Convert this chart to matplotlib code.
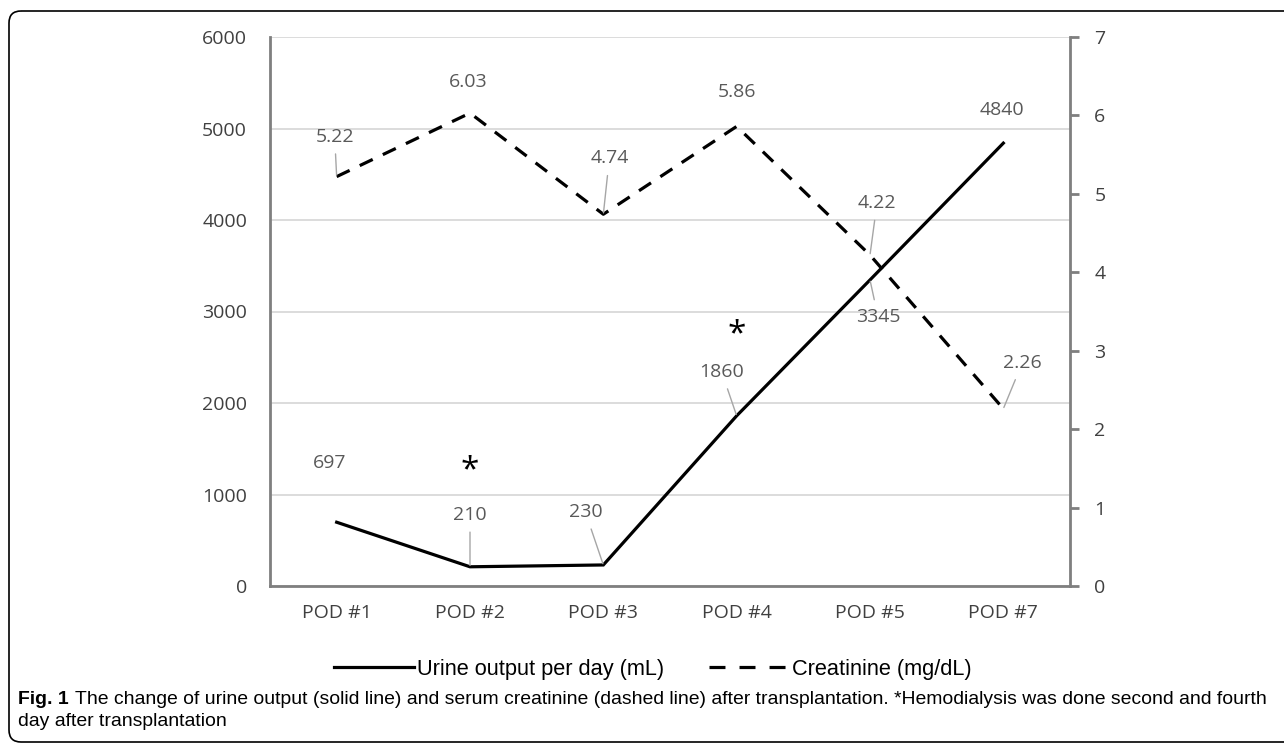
import matplotlib
matplotlib.use("Agg")
from matplotlib import pyplot as plt
from matplotlib.patches import FancyBboxPatch

# data
days = ["POD #1", "POD #2", "POD #3", "POD #4", "POD #5", "POD #7"]
urine = [697, 210, 230, 1860, 3345, 4840]
creat = [5.22, 6.03, 4.74, 5.86, 4.22, 2.26]
dialysis_idx = [1, 3]

# label offsets in pixels (dx, dy) and whether a leader line is drawn
urine_off = [(-7, 59, False), (0, 52, True), (-18, 53, True),
             (-15, 44, True), (8, -37, True), (-1, 33, False)]
creat_off = [(-2, 40, True), (-2, 31, False), (6, 56, True),
             (0, 34, False), (7, 52, True), (19, 46, True)]
star_off = [96, 81]

W, H = 1284, 745
fig = plt.figure(figsize=(W / 100, H / 100), dpi=100)

# rounded frame around the whole figure
bg = fig.add_axes([0, 0, 1, 1])
bg.set_xlim(0, W)
bg.set_ylim(H, 0)
bg.axis("off")
bg.add_patch(FancyBboxPatch((9, 11), W + 60, H - 14, boxstyle="round,pad=0,rounding_size=12",
                            fill=False, ec="black", lw=1.2, clip_on=True))

left, right, top, bottom = 270, 1070, 37, 586
ax = fig.add_axes([left / W, 1 - bottom / H, (right - left) / W, (bottom - top) / H])
ax2 = ax.twinx()

lab_font = "Open Sans"
cap_font = ["Liberation Sans", "DejaVu Sans"]
grey = "#595959"

x = list(range(len(days)))
ax.plot(x, urine, color="black", lw=2.3, solid_joinstyle="miter", zorder=3)
ax2.plot(x, creat, color="black", lw=2.3, dashes=(4.5, 3.5), zorder=3)

ax.set_xlim(-0.5, len(days) - 0.5)
ax.set_ylim(0, 6000)
ax2.set_ylim(0, 7)
ax.set_yticks(range(0, 6001, 1000))
ax2.set_yticks(range(0, 8))
ax.set_xticks(x)
ax.set_xticklabels(days)
ax.grid(axis="y", color="#d9d9d9", lw=1.3)
ax.set_axisbelow(True)

for a in (ax, ax2):
    for s in a.spines.values():
        s.set_visible(False)
ax.spines["left"].set_visible(True)
ax.spines["bottom"].set_visible(True)
ax2.spines["right"].set_visible(True)
for s in [ax.spines["left"], ax.spines["bottom"], ax2.spines["right"]]:
    s.set_color("#7f7f7f")
    s.set_linewidth(2)

ax.tick_params(axis="y", length=0, pad=16.5, labelsize=14, labelcolor="#404040")
ax.tick_params(axis="x", length=0, pad=13, labelsize=14, labelcolor="#404040")
ax2.tick_params(axis="y", length=6.5, width=2, color="#7f7f7f", pad=11, labelsize=14, labelcolor="#404040")
for lbl in ax.get_xticklabels() + ax.get_yticklabels() + ax2.get_yticklabels():
    lbl.set_fontfamily(lab_font)

def put_labels(a, vals, offs, fmt):
    for i, v in enumerate(vals):
        dx, dy, lead = offs[i]
        a.annotate(fmt(v), xy=(i, v), xytext=(dx, dy), textcoords="offset pixels",
                   ha="center", va="center", fontsize=14, color=grey, family=lab_font,
                   arrowprops=dict(arrowstyle="-", color="#a6a6a6", lw=1, shrinkA=4, shrinkB=1) if lead else None,
                   zorder=4)

put_labels(ax, urine, urine_off, lambda v: "%d" % v)
put_labels(ax2, creat, creat_off, lambda v: "%.2f" % v)

for k, i in enumerate(dialysis_idx):
    ax.annotate("*", xy=(i, urine[i]), xytext=(0, star_off[k]), textcoords="offset pixels",
                ha="center", va="center", fontsize=24, color="black", family="Open Sans")

# caption, sized so that the first line spans the same width as in the figure
cap_size = 13
t_fig = fig.text(18 / W, 1 - 699 / H, "Fig. 1", fontsize=cap_size, fontweight="bold",
                 family=cap_font, va="center", ha="left")
t1 = fig.text(75 / W, 1 - 699 / H,
              "The change of urine output (solid line) and serum creatinine (dashed line) after transplantation. "
              "*Hemodialysis was done second and fourth",
              fontsize=cap_size, family=cap_font, va="center", ha="left")
fig.canvas.draw()
r = fig.canvas.get_renderer()
cap_size = cap_size * 1190 / t1.get_window_extent(r).width
t1.set_fontsize(cap_size)
t_fig.set_fontsize(cap_size)
fig.text(18 / W, 1 - 722 / H, "day after transplantation", fontsize=cap_size, family=cap_font,
         va="center", ha="left")

# legend, text sized to the width it has in the figure
leg_size = cap_size * 247 / 220
px = leg_size * 100 / 72
h1, = ax.plot([], [], color="black", lw=2.3)
h2, = ax.plot([], [], color="black", lw=2.3, dashes=(5, 4.4))
fig.legend([h1, h2], ["Urine output per day (mL)", "Creatinine (mg/dL)"],
           loc="center left", bbox_to_anchor=(334 / W, 1 - 669 / H), ncol=2, frameon=False,
           borderpad=0, borderaxespad=0,
           handlelength=80 / px, handletextpad=3 / px, columnspacing=45 / px,
           prop={"family": cap_font, "size": leg_size})

fig.savefig("out.png", dpi=100)
